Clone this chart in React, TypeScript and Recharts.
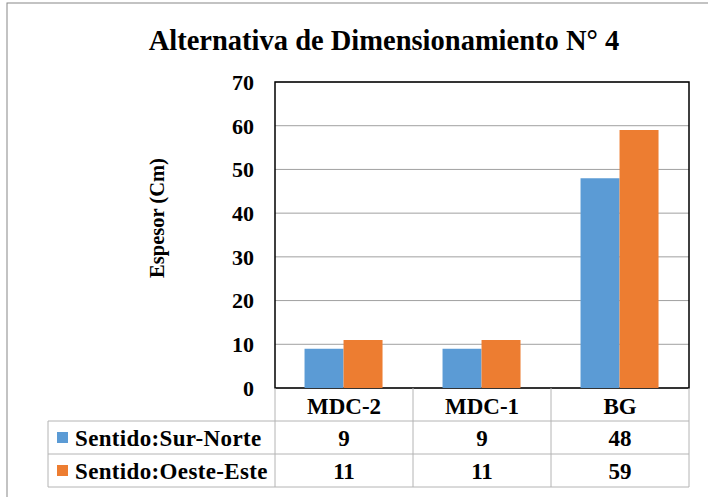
import React from "react";
import {
  BarChart,
  Bar,
  XAxis,
  YAxis,
  CartesianGrid,
  ReferenceArea,
  Customized,
} from "recharts";

/* ── Data ───────────────────────────────────────────────────── */

const categories = ["MDC-2", "MDC-1", "BG"];
const surNorte = [9, 9, 48];
const oesteEste = [11, 11, 59];
const yTicks = [0, 10, 20, 30, 40, 50, 60, 70];

const SERIES = [
  { key: "surNorte", name: "Sentido:Sur-Norte", color: "#5B9BD5", values: surNorte },
  { key: "oesteEste", name: "Sentido:Oeste-Este", color: "#ED7D31", values: oesteEste },
];

const data = categories.map((c, i) => ({
  name: c,
  surNorte: surNorte[i],
  oesteEste: oesteEste[i],
}));

/* ── Layout ─────────────────────────────────────────────────── */

const W = 708;
const H = 497;
const MARGIN = { top: 82, right: 19, bottom: 0, left: 0 };
const PLOT_LEFT = 275;
const PLOT_W = W - PLOT_LEFT - MARGIN.right;
const COL_W = PLOT_W / categories.length;
const ROW_H = 33;
const TABLE_LEFT = 48;
const FONT = "'Liberation Serif', 'Times New Roman', serif";
const LINE = "#b4b4b4";
const TXT = 23;

/* ── Table drawn from the x-axis ticks ──────────────────────── */

function TableTick(props: any) {
  const { x, y, payload } = props;
  const i = payload.index;
  const left = x - COL_W / 2;
  const right = x + COL_W / 2;
  const top = y;
  const isFirst = i === 0;
  return (
    <g>
      {isFirst && <line x1={left} x2={left} y1={top} y2={top + ROW_H * 3} stroke={LINE} />}
      <line x1={right} x2={right} y1={top} y2={top + ROW_H * 3} stroke={LINE} />
      {[1, 2, 3].map((r) => (
        <line
          key={r}
          x1={isFirst ? TABLE_LEFT : left}
          x2={right}
          y1={top + ROW_H * r}
          y2={top + ROW_H * r}
          stroke={LINE}
        />
      ))}
      {isFirst && (
        <line x1={TABLE_LEFT} x2={TABLE_LEFT} y1={top + ROW_H} y2={top + ROW_H * 3} stroke={LINE} />
      )}
      <text
        x={x}
        y={top + ROW_H / 2 + 9}
        textAnchor="middle"
        fontFamily={FONT}
        fontWeight="bold"
        fontSize={TXT}
        fill="#000"
      >
        {payload.value}
      </text>
      {SERIES.map((s, r) => (
        <text
          key={s.key}
          x={x}
          y={top + ROW_H * (r + 1) + ROW_H / 2 + 8}
          textAnchor="middle"
          fontFamily={FONT}
          fontWeight="bold"
          fontSize={TXT}
          fill="#000"
        >
          {s.values[i]}
        </text>
      ))}
      {isFirst &&
        SERIES.map((s, r) => {
          const cy = top + ROW_H * (r + 1) + ROW_H / 2;
          return (
            <g key={s.key}>
              <rect x={57} y={cy - 5.5} width={11} height={11} fill={s.color} />
              <text
                x={75}
                y={cy + 8}
                fontFamily={FONT}
                fontWeight="bold"
                fontSize={TXT}
                letterSpacing={0.35}
                fill="#000"
              >
                {s.name}
              </text>
            </g>
          );
        })}
    </g>
  );
}

function Decorations() {
  return (
    <g>
      <rect x={7} y={3} width={W + 20} height={H + 20} fill="none" stroke="#888" />
      <text
        x={384}
        y={50}
        textAnchor="middle"
        fontFamily={FONT}
        fontWeight="bold"
        fontSize={28.5}
        fill="#000"
      >
        Alternativa de Dimensionamiento N° 4
      </text>
      <text
        x={164}
        y={218}
        transform="rotate(-90 164 218)"
        textAnchor="middle"
        fontFamily={FONT}
        fontWeight="bold"
        fontSize={20.5}
        fill="#000"
      >
        Espesor (Cm)
      </text>
    </g>
  );
}

/* ── Component ──────────────────────────────────────────────── */

export default function App() {
  return (
    <div style={{ position: "absolute", left: 0, top: 0, width: W, height: H, background: "#fff" }}>
      <BarChart
        width={W}
        height={H}
        data={data}
        margin={MARGIN}
        barCategoryGap="21.4%"
        barGap={0}
      >
        <Customized component={Decorations} />
        <CartesianGrid vertical={false} stroke="#a0a0a0" />
        <XAxis
          dataKey="name"
          height={109}
          axisLine={false}
          tickLine={false}
          tickSize={0}
          tickMargin={0}
          interval={0}
          tick={<TableTick />}
        />
        <YAxis
          width={PLOT_LEFT}
          domain={[0, 70]}
          ticks={yTicks}
          axisLine={false}
          tickLine={false}
          tickSize={0}
          tickMargin={21}
          tick={{ fontFamily: FONT, fontWeight: "bold", fontSize: 22, fill: "#000" }}
        />
        {SERIES.map((s) => (
          <Bar key={s.key} dataKey={s.key} name={s.name} fill={s.color} isAnimationActive={false} />
        ))}
        <ReferenceArea y1={0} y2={70} fill="none" stroke="#000" strokeWidth={1.5} ifOverflow="visible" />
      </BarChart>
    </div>
  );
}
